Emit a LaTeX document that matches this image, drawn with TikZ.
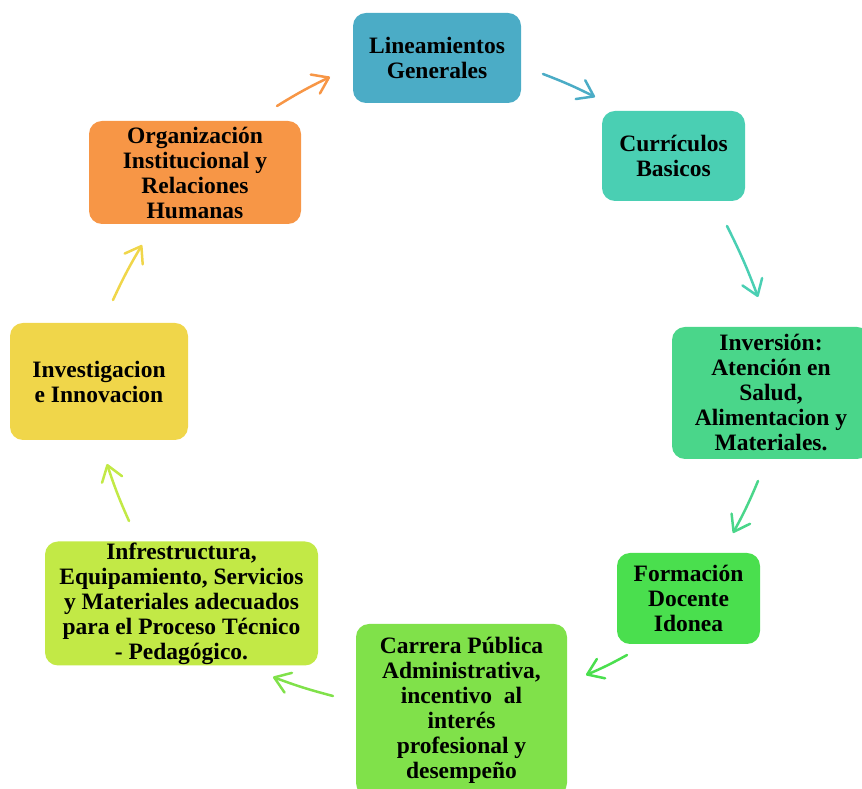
\documentclass[tikz,border=0pt]{standalone}
\usepackage{fontspec}
\setmainfont{Liberation Serif}
\usetikzlibrary{arrows.meta}
\definecolor{lincol}{HTML}{4BACC6}
\definecolor{curcol}{HTML}{4ACFB3}
\definecolor{invcol}{HTML}{4AD68A}
\definecolor{forcol}{HTML}{4ADF4E}
\definecolor{carcol}{HTML}{80E14A}
\definecolor{infcol}{HTML}{C2E946}
\definecolor{ivgcol}{HTML}{F0D64A}
\definecolor{orgcol}{HTML}{F79646}
\tikzset{
  box/.style={rectangle,rounded corners=13pt,inner sep=0pt,align=center,
    font=\bfseries\fontsize{23.5}{25}\selectfont},
  cyc/.style={line width=2.5pt,line cap=round,
    -{Straight Barb[length=15pt,width=21pt,round]}}
}
\begin{document}
\begin{tikzpicture}[x=1pt,y=1pt]
  \useasboundingbox (0,0) rectangle (862,789);
  \clip (0,0) rectangle (862,789);
  \node[box,fill=lincol,minimum width=168,minimum height=90](lin) at (437,731) {Lineamientos\\Generales};
  \node[box,fill=curcol,minimum width=143,minimum height=90](cur) at (673.5,633) {Currículos\\Basicos};
  \node[box,fill=invcol,minimum width=198,minimum height=132](inv) at (771,396) {Inversión:\\Atención en\\Salud,\\Alimentacion y\\Materiales.};
  \node[box,fill=forcol,minimum width=143,minimum height=91](for) at (688.5,190.5) {Formación\\Docente\\Idonea};
  \node[box,fill=carcol,minimum width=211,minimum height=172](car) at (461.5,79) {Carrera Pública\\Administrativa,\\incentivo\ \ al\\interés\\profesional y\\desempeño};
  \node[box,fill=infcol,minimum width=273,minimum height=124](inf) at (181.5,185.5) {Infrestructura,\\Equipamiento, Servicios\\y Materiales adecuados\\para el Proceso Técnico\\- Pedagógico.};
  \node[box,fill=ivgcol,minimum width=178,minimum height=117](ivg) at (99,407.5) {Investigacion\\e Innovacion};
  \node[box,fill=orgcol,minimum width=212,minimum height=103](org) at (195,616.5) {Organización\\Institucional y\\Relaciones\\Humanas};
  % ends of the cycle arrows
  \coordinate (o1) at (277,683); \coordinate (o2) at (330,712);
  \coordinate (l1) at (543,715); \coordinate (l2) at (595,692);
  \coordinate (c1) at (727,563); \coordinate (c2) at (758,492);
  \coordinate (i1) at (758,308); \coordinate (i2) at (733,256);
  \coordinate (f1) at (627,134); \coordinate (f2) at (586,114);
  \coordinate (a1) at (333,93);  \coordinate (a2) at (273,112);
  \coordinate (n1) at (129,268); \coordinate (n2) at (107,325);
  \coordinate (v1) at (113,489); \coordinate (v2) at (142,544);
  \draw[cyc,orgcol] (o1) to[bend left=3] (o2);
  \draw[cyc,lincol] (l1) to[bend left=3] (l2);
  \draw[cyc,curcol] (c1) to[bend left=3] (c2);
  \draw[cyc,invcol] (i1) to[bend left=3] (i2);
  \draw[cyc,forcol] (f1) to[bend left=3] (f2);
  \draw[cyc,carcol] (a1) to[bend left=3] (a2);
  \draw[cyc,infcol] (n1) to[bend left=3] (n2);
  \draw[cyc,ivgcol] (v1) to[bend left=3] (v2);
\end{tikzpicture}
\end{document}
